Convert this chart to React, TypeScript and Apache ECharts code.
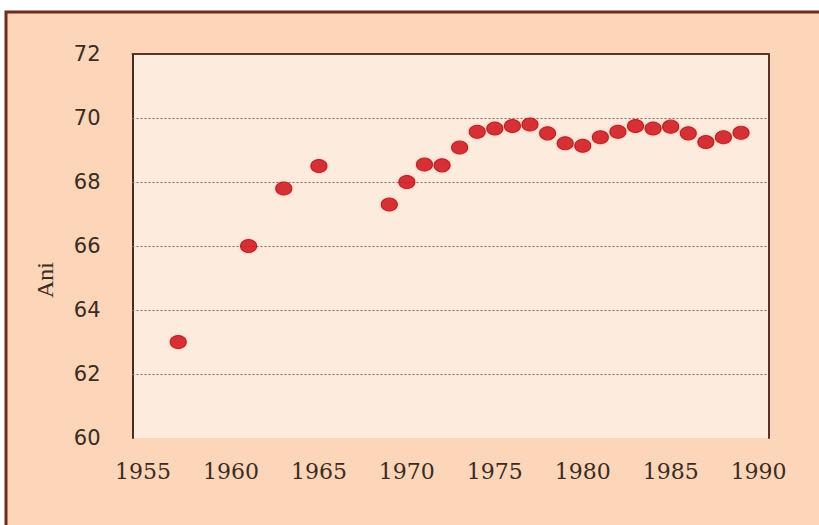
import React, { useEffect, useRef } from "react";
import * as echarts from "echarts";

const years = [1957, 1961, 1963, 1965, 1969, 1970, 1971, 1972, 1973, 1974, 1975, 1976, 1977, 1978, 1979, 1980, 1981, 1982, 1983, 1984, 1985, 1986, 1987, 1988, 1989];
const lifeExpectancy = [63.0, 66.0, 67.8, 68.5, 67.3, 68.0, 68.55, 68.52, 69.08, 69.57, 69.67, 69.75, 69.8, 69.52, 69.21, 69.13, 69.4, 69.57, 69.75, 69.67, 69.73, 69.52, 69.25, 69.4, 69.54];
const xTickYears = [1955, 1960, 1965, 1970, 1975, 1980, 1985, 1990];
const gridValues = [62, 64, 66, 68, 70];
const yAxisName = "Ani";

export default function App() {
  const ref = useRef<HTMLDivElement>(null);
  useEffect(() => {
    if (!ref.current) return;
    const chart = echarts.init(ref.current, undefined, { renderer: "svg" });
    const points = years.map((y, i) => [y, lifeExpectancy[i]]);
    chart.setOption({
      animation: false,
      backgroundColor: "#ffffff",
      graphic: [
        {
          type: "rect",
          z: -10,
          shape: { x: 6, y: 12, width: 840, height: 540 },
          style: { fill: "#fdd6b9", stroke: "#6e2b1f", lineWidth: 3 },
        },
        {
          type: "text",
          z: 10,
          x: 45,
          y: 280,
          rotation: Math.PI / 2,
          style: {
            text: yAxisName,
            font: "24px 'Liberation Serif'",
            fill: "#3b2b22",
            align: "center",
            verticalAlign: "middle",
          },
        },
      ],
      grid: {
        left: 132.5,
        right: 50.7,
        top: 54,
        bottom: 87,
        show: true,
        backgroundColor: "#fdebdd",
        borderWidth: 0,
        borderColor: "transparent",
      },
      xAxis: [
        {
          type: "value",
          position: "bottom",
          min: 1954.4,
          max: 1990.55,
          axisLine: { show: false, lineStyle: { color: "rgba(0,0,0,0)", width: 0 } },
          axisTick: { show: false },
          splitLine: { show: false },
          axisLabel: {
            customValues: xTickYears,
            formatter: (v: number) => String(v),
            margin: 22,
            fontFamily: "'DejaVu Serif'",
            fontSize: 22,
            color: "#3b2b22",
          },
        },
        {
          type: "value",
          position: "top",
          min: 1954.4,
          max: 1990.55,
          axisLine: { show: true, lineStyle: { color: "#5a3328", width: 2 } },
          axisTick: { show: false },
          splitLine: { show: false },
          axisLabel: { show: false },
        },
      ],
      yAxis: [
        {
          type: "value",
          min: 60,
          max: 72,
          interval: 2,
          axisLine: { show: true, lineStyle: { color: "#4a2a22", width: 2 } },
          axisTick: { show: false },
          axisLabel: {
            margin: 32,
            fontFamily: "'DejaVu Sans'",
            fontSize: 21,
            color: "#3b2b22",
          },
          splitLine: { show: false },
        },
        {
          type: "value",
          position: "right",
          min: 60,
          max: 72,
          interval: 2,
          axisLine: { show: true, lineStyle: { color: "#5a3328", width: 2 } },
          axisTick: { show: false },
          axisLabel: { show: false },
          splitLine: { show: false },
        },
      ],
      series: [
        {
          type: "scatter",
          xAxisIndex: 0,
          yAxisIndex: 0,
          data: points,
          symbol: "circle",
          symbolSize: [16, 13],
          z: 3,
          itemStyle: {
            color: "#d00c15",
            borderColor: "#a30a10",
            borderWidth: 1,
            shadowBlur: 3,
            shadowColor: "rgba(200,10,10,0.3)",
          },
          markLine: {
            silent: true,
            symbol: "none",
            z: 1,
            label: { show: false },
            lineStyle: { color: "#8a6a58", type: [2, 2], width: 1 },
            data: gridValues.map((v) => ({ yAxis: v })),
          },
        },
      ],
    });
    return () => chart.dispose();
  }, []);
  return (
    <div
      ref={ref}
      style={{ position: "absolute", left: 0, top: 0, width: 819, height: 525 }}
    />
  );
}
